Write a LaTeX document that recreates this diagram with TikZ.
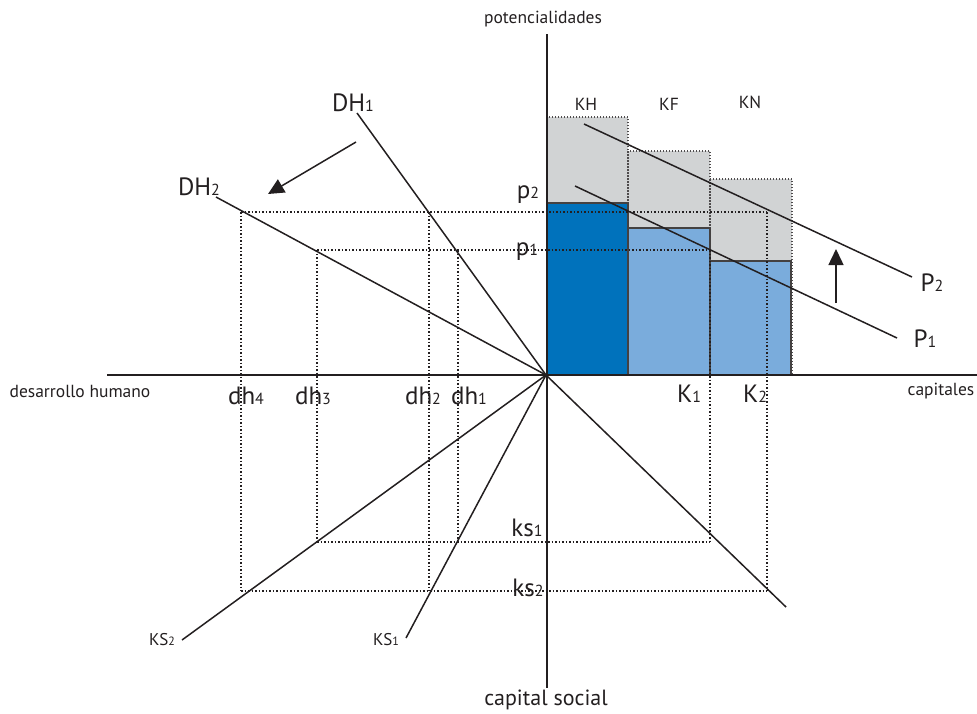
\documentclass[tikz,border=0pt]{standalone}
\usepackage{fontspec}
\setmainfont{PT Sans}
\usetikzlibrary{arrows.meta}
\definecolor{dblue}{RGB}{0,114,188}
\definecolor{lblue}{RGB}{122,172,220}
\definecolor{lgray}{RGB}{209,211,212}
\definecolor{ink}{RGB}{35,31,32}
\newcommand\biglbl[2]{{\fontsize{25}{25}\selectfont #1{\fontsize{16}{16}\selectfont #2}}}
\newcommand\midlbl[2]{{\fontsize{17}{17}\selectfont #1{\fontsize{12}{12}\selectfont #2}}}
\begin{document}
\begin{tikzpicture}[x=1pt,y=-1pt,
  axis/.style={draw=ink,line width=1.6pt},
  ray/.style={draw=ink,line width=1.5pt},
  guide/.style={draw=ink,line width=1.1pt,dash pattern=on 1.5pt off 2pt},
  bar/.style={draw=ink!85,line width=2.4pt},
  ghost/.style={fill=lgray,draw=ink!80,line width=1.1pt,dash pattern=on 1.5pt off 1.5pt},
  lab/.style={inner sep=0pt,font=\fontsize{17.5}{17.5}\selectfont,text=ink},
  blab/.style={inner sep=0pt,text=ink},
  head/.style={-{Triangle[length=16pt,width=15pt]}}
]
\useasboundingbox (0,0) rectangle (977,713);
\coordinate (O) at (546,375);
% gray upper boxes
\path[ghost] (547,117) rectangle (628,375);
\path[ghost] (628,151) rectangle (710,375);
\path[ghost] (710,179) rectangle (792,375);
% blue bars
\path[fill=dblue] (547,203) rectangle (628,375);
\path[fill=lblue] (628,228) rectangle (710,375);
\path[fill=lblue] (710,261) rectangle (791,375);
\draw[bar] (547,375) -- (547,203) -- (628,203) -- (628,375);
\draw[bar] (628,375) -- (628,228) -- (710,228) -- (710,375);
\draw[bar] (710,375) -- (710,261) -- (791,261) -- (791,375) -- (547,375);
% guides
\coordinate (a1) at (241,212); \coordinate (a2) at (767,212);
\coordinate (b1) at (317,250); \coordinate (b2) at (710,250);
\coordinate (c1) at (317,542); \coordinate (c2) at (710,542);
\coordinate (d1) at (241,591); \coordinate (d2) at (767,591);
\draw[guide] (a1) -- (a2);
\draw[guide] (b1) -- (b2);
\draw[guide] (c1) -- (c2);
\draw[guide] (d1) -- (d2);
\draw[guide] (a1) -- (d1);
\draw[guide] (b1) -- (c1);
\draw[guide] (429,212) -- (429,591);
\draw[guide] (458,250) -- (458,542);
\draw[guide] (b2) -- (c2);
\draw[guide] (a2) -- (d2);
% axes
\coordinate (yt) at (547,34); \coordinate (yb) at (547,688);
\coordinate (xl) at (107,375); \coordinate (xr) at (977,375);
\draw[axis] (yt) -- (yb);
\draw[axis] (xl) -- (xr);
% rays
\coordinate (dh1e) at (357,113);
\coordinate (dh2e) at (216,197);
\coordinate (ks2e) at (182,640);
\coordinate (ks1e) at (406,638);
\coordinate (qe) at (786,607);
\draw[ray] (dh1e) -- (O);
\draw[ray] (dh2e) -- (O);
\draw[ray] (ks2e) -- (O);
\draw[ray] (ks1e) -- (O);
\draw[ray] (O) -- (qe);
% P lines
\coordinate (p2s) at (584,124); \coordinate (p2e) at (912,277);
\coordinate (p1s) at (575,186); \coordinate (p1e) at (897,338);
\draw[ray] (p2s) -- (p2e);
\draw[ray] (p1s) -- (p1e);
% arrows
\coordinate (ar1s) at (356,142); \coordinate (ar1e) at (268,194);
\draw[ray,head] (ar1s) -- (ar1e);
\coordinate (ar2s) at (836,303); \coordinate (ar2e) at (836,249);
\draw[ray,head] (ar2s) -- (ar2e);
% labels
\node[lab] (tpot) at (543,19) {potencialidades};
\node[lab] (tdes) at (80,391) {desarrollo humano};
\node[lab] (tcap) at (941,391) {capitales};
\node[blab,font=\fontsize{22}{22}\selectfont] (tcs) at (546,700) {capital social};
\node[lab] (tKH) at (586,104) {KH};
\node[lab] (tKF) at (669,104) {KF};
\node[lab] (tKN) at (750,102) {KN};
\node[blab] (tDH1) at (353,103) {\biglbl{DH}{1}};
\node[blab] (tDH2) at (199,187) {\biglbl{DH}{2}};
\node[blab] (tp2) at (528,195) {\biglbl{p}{2}};
\node[blab] (tp1) at (527,252) {\biglbl{p}{1}};
\node[blab] (tP2) at (932,283) {\biglbl{P}{2}};
\node[blab] (tP1) at (925,339) {\biglbl{P}{1}};
\node[blab] (tdh4) at (246,396) {\biglbl{dh}{4}};
\node[blab] (tdh3) at (313,396) {\biglbl{dh}{3}};
\node[blab] (tdh2) at (423,396) {\biglbl{dh}{2}};
\node[blab] (tdh1) at (469,396) {\biglbl{dh}{1}};
\node[blab] (tK1) at (689,394) {\biglbl{K}{1}};
\node[blab] (tK2) at (755,394) {\biglbl{K}{2}};
\node[blab] (tks1) at (527,528) {\biglbl{ks}{1}};
\node[blab] (tks2) at (528,588) {\biglbl{ks}{2}};
\node[blab] (tKS2) at (162,640) {\midlbl{KS}{2}};
\node[blab] (tKS1) at (386,640) {\midlbl{KS}{1}};
\end{tikzpicture}
\end{document}
